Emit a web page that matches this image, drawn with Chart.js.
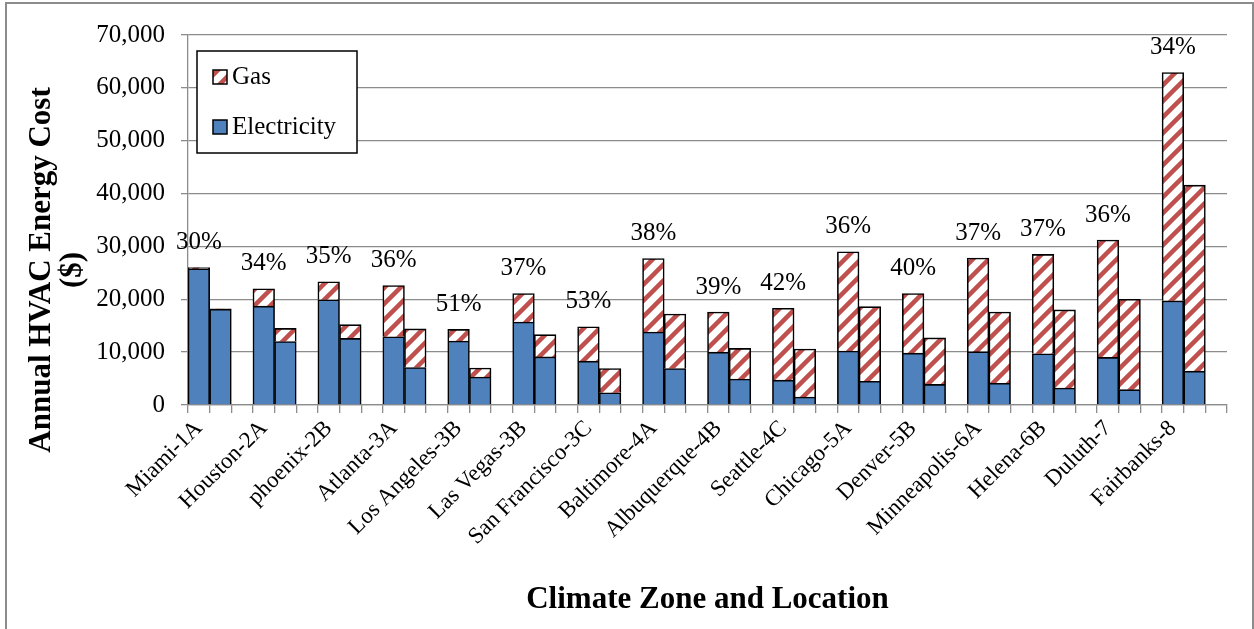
<!DOCTYPE html>
<html>
<head>
<meta charset="utf-8">
<script src="https://cdn.jsdelivr.net/npm/chart.js@4.4.1/dist/chart.umd.min.js"></script>
<style>
  body { margin: 0; background: #fff; overflow: hidden; }
</style>
</head>
<body>
<canvas id="grafico" width="1254" height="629"></canvas>
<script>
// ciudades por zona climatica
var ciudades = ['Miami-1A', 'Houston-2A', 'phoenix-2B', 'Atlanta-3A', 'Los Angeles-3B', 'Las Vegas-3B',
    'San Francisco-3C', 'Baltimore-4A', 'Albuquerque-4B', 'Seattle-4C', 'Chicago-5A', 'Denver-5B',
    'Minneapolis-6A', 'Helena-6B', 'Duluth-7', 'Fairbanks-8'];
// costo anual ($), caso base y caso mejorado
var elecBase = [25800, 18700, 19900, 12900, 12100, 15700, 8300, 13800, 10000, 4700, 10200, 9800, 10100, 9700, 9000, 19700];
var gasBase  = [200, 3300, 3400, 9700, 2200, 5400, 6500, 13900, 7600, 13600, 18800, 11300, 17700, 18800, 22200, 43200];
var elecMej  = [18100, 12000, 12600, 7100, 5300, 9100, 2300, 6900, 4900, 1500, 4500, 3900, 4100, 3200, 2900, 6400];
var gasMej   = [100, 2500, 2600, 7300, 1700, 4200, 4600, 10300, 5800, 9100, 14100, 8800, 13500, 14800, 17100, 35200];
// ahorro (%)
var ahorro = [30, 34, 35, 36, 51, 37, 53, 38, 39, 42, 36, 40, 37, 37, 36, 34];
var marcasY = [0, 10000, 20000, 30000, 40000, 50000, 60000, 70000];

var AZUL = '#4F81BD';
var ROJO = '#C0504D';
var FUENTE = '"Liberation Serif", "Times New Roman", serif';

// tres casillas por ciudad: base, mejorado, hueco
var etiquetas = [], electricidad = [], gas = [];
ciudades.forEach(function(c, i){
    etiquetas.push(c, '', '');
    electricidad.push(elecBase[i], elecMej[i], null);
    gas.push(gasBase[i], gasMej[i], null);
});

function rayado(){
    var c = document.createElement('canvas');
    c.width = 16; c.height = 16;
    var g = c.getContext('2d');
    g.fillStyle = '#fff';
    g.fillRect(0, 0, 16, 16);
    g.strokeStyle = ROJO;
    g.lineWidth = 4.5;
    g.beginPath();
    g.moveTo(-4, 20); g.lineTo(20, -4);
    g.moveTo(-4, 4); g.lineTo(4, -4);
    g.moveTo(12, 20); g.lineTo(20, 12);
    g.stroke();
    return g.createPattern(c, 'repeat');
}
var patronGas = rayado();

var extras = {
    id: 'extras',
    afterDraw: function(chart){
        var ctx = chart.ctx, xs = chart.scales.x, ys = chart.scales.y, area = chart.chartArea;
        ctx.save();

        // porcentajes sobre la barra base
        ctx.font = '25px ' + FUENTE;
        ctx.fillStyle = '#000';
        ctx.textAlign = 'center';
        ctx.textBaseline = 'middle';
        ahorro.forEach(function(p, i){
            var tope = ys.getPixelForValue(elecBase[i] + gasBase[i]);
            ctx.fillText(p + '%', xs.getPixelForValue(i * 3), tope - 25);
        });

        // leyenda
        var lx = area.left + 9, ly = area.top + 16;
        ctx.fillStyle = '#fff';
        ctx.fillRect(lx, ly, 160, 102);
        ctx.strokeStyle = '#000';
        ctx.lineWidth = 1.5;
        ctx.strokeRect(lx, ly, 160, 102);
        var items = [['Gas', patronGas], ['Electricity', AZUL]];
        items.forEach(function(it, k){
            var cy = ly + 26 + k * 50;
            ctx.fillStyle = it[1];
            ctx.fillRect(lx + 16, cy - 7, 14, 14);
            ctx.strokeStyle = '#000';
            ctx.lineWidth = 1.5;
            ctx.strokeRect(lx + 16, cy - 7, 14, 14);
            ctx.fillStyle = '#000';
            ctx.textAlign = 'left';
            ctx.fillText(it[0], lx + 35, cy);
        });

        // titulos de ejes
        ctx.font = 'bold 31px ' + FUENTE;
        ctx.textAlign = 'center';
        ctx.fillText('Climate Zone and Location', (area.left + area.right) / 2, 600);
        ctx.translate(42, 270);
        ctx.rotate(-Math.PI / 2);
        ctx.fillText('Annual HVAC Energy Cost', 0, 0);
        ctx.fillText('($)', 0, 31);
        ctx.restore();

        // marco
        ctx.save();
        ctx.strokeStyle = '#8c8c8c';
        ctx.lineWidth = 2;
        ctx.beginPath();
        ctx.moveTo(6, 629); ctx.lineTo(6, 3); ctx.lineTo(1253, 3); ctx.lineTo(1253, 629);
        ctx.stroke();
        ctx.restore();
    }
};

var ctx = document.getElementById('grafico');
var grafico = new Chart(ctx, {
    type: 'bar',
    data: {
        labels: etiquetas,
        datasets: [{
            label: 'Electricity',
            data: electricidad,
            backgroundColor: AZUL,
            borderColor: '#000',
            borderWidth: 1.6,
            barPercentage: 1,
            categoryPercentage: 1
        }, {
            label: 'Gas',
            data: gas,
            backgroundColor: patronGas,
            borderColor: '#000',
            borderWidth: 1.6,
            barPercentage: 1,
            categoryPercentage: 1
        }]
    },
    options: {
        responsive: false,
        animation: false,
        devicePixelRatio: 1,
        layout: { padding: { top: 35, right: 27, left: 0, bottom: 0 } },
        plugins: { legend: { display: false }, tooltip: { enabled: false } },
        scales: {
            x: {
                stacked: true,
                offset: true,
                grid: { display: true, drawOnChartArea: false, offset: true, color: '#8c8c8c', lineWidth: 1.3, tickLength: 8 },
                border: { color: '#8c8c8c', width: 1.3 },
                ticks: {
                    autoSkip: false, minRotation: 45, maxRotation: 45, padding: 2,
                    color: '#000', font: { family: FUENTE, size: 23 }
                },
                afterFit: function(s){ s.height = 224; }
            },
            y: {
                stacked: true,
                min: 0, max: 70000,
                afterBuildTicks: function(s){ s.ticks = marcasY.map(function(v){ return { value: v }; }); },
                grid: { color: '#8c8c8c', lineWidth: 1.3, tickLength: 7 },
                border: { color: '#8c8c8c', width: 1.3 },
                ticks: {
                    padding: 16, color: '#000', font: { family: FUENTE, size: 25 },
                    callback: function(v){ return v.toLocaleString('en-US'); }
                },
                afterFit: function(s){ s.width = 188; }
            }
        }
    },
    plugins: [extras]
});
</script>
</body>
</html>
